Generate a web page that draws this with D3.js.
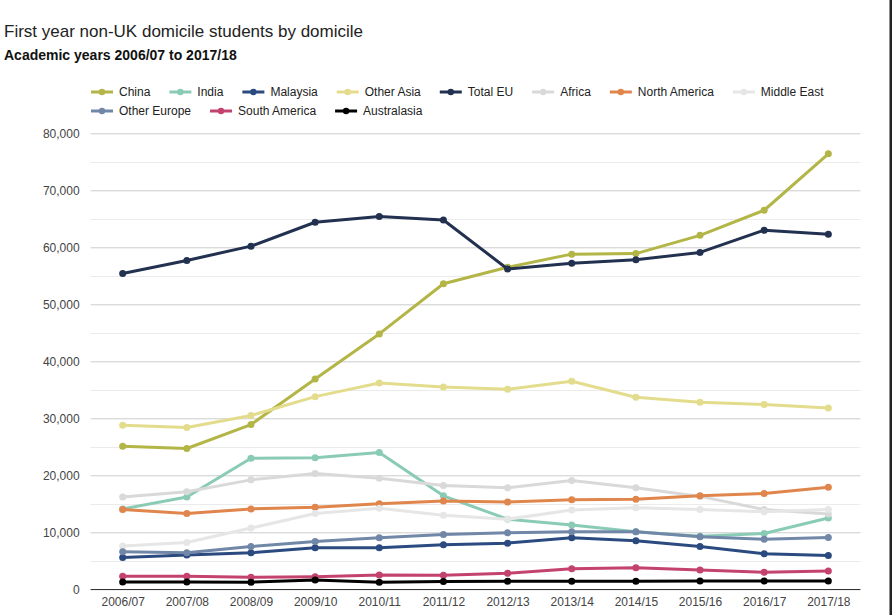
<!DOCTYPE html>
<meta charset="utf-8">
<style>
body{
  margin: 0;
  background: #fff;
  font-family: "Liberation Sans", Arial, sans-serif;
}
svg{ display: block; }
.tick text{ fill: #444; font-size: 12px; }
.legend text{ fill: #222; font-size: 12px; }
</style>
<body>
<div id="chart"></div>
<script src="https://cdn.jsdelivr.net/npm/d3@7"></script>
<script>

var years = ['2006/07','2007/08','2008/09','2009/10','2010/11','2011/12',
             '2012/13','2013/14','2014/15','2015/16','2016/17','2017/18']

var china        = [25100, 24700, 28900, 36900, 44800, 53600, 56500, 58800, 58900, 62100, 66500, 76400]
var india        = [14100, 16200, 23000, 23100, 24000, 16400, 12300, 11300, 10100,  9300,  9800, 12500]
var malaysia     = [ 5600,  6000,  6400,  7300,  7300,  7800,  8100,  9050,  8500,  7500,  6250,  5950]
var otherAsia    = [28800, 28400, 30500, 33800, 36200, 35500, 35100, 36500, 33700, 32800, 32400, 31800]
var totalEU      = [55400, 57700, 60200, 64400, 65400, 64800, 56200, 57200, 57800, 59100, 63000, 62300]
var africa       = [16200, 17100, 19200, 20300, 19500, 18200, 17800, 19100, 17800, 16300, 14000, 13200]
var northAmerica = [14000, 13300, 14100, 14400, 15000, 15500, 15300, 15700, 15800, 16400, 16800, 17900]
var middleEast   = [ 7600,  8200, 10750, 13300, 14200, 13000, 12300, 13900, 14300, 14000, 13600, 14000]
var otherEurope  = [ 6600,  6400,  7500,  8400,  9050,  9600,  9900, 10100, 10100,  9200,  8800,  9100]
var southAmerica = [ 2300,  2300,  2100,  2200,  2500,  2450,  2800,  3600,  3800,  3400,  3000,  3200]
var australasia  = [ 1300,  1300,  1250,  1650,  1250,  1350,  1400,  1400,  1400,  1450,  1450,  1450]

var names  = ['China','India','Malaysia','Other Asia','Total EU','Africa','North America',
              'Middle East','Other Europe','South America','Australasia']
var values = [china, india, malaysia, otherAsia, totalEU, africa, northAmerica,
              middleEast, otherEurope, southAmerica, australasia]
var colors = ['#b3b646','#8acbb6','#2b4a80','#e4dc8d','#22314f','#d9d9d9','#e0864c',
              '#e6e6e6','#7187a8','#c4426f','#000000']

var yTicks = d3.range(0, 80001, 10000)

var width = 892, height = 615
// plot box (window.top is read-only, so no bare "top")
var plot = {left: 90.6, right: 860.4, top: 133.3, bottom: 589.3}

var svg = d3.select('#chart').append('svg')
    .attr('width', width)
    .attr('height', height)

// titles
svg.append('text')
    .attr('x', 4).attr('y', 37)
    .style('font-size', '17px')
    .style('fill', '#222')
    .text('First year non-UK domicile students by domicile')

svg.append('text')
    .attr('x', 4).attr('y', 60)
    .style('font-size', '14px')
    .style('font-weight', 'bold')
    .style('fill', '#111')
    .text('Academic years 2006/07 to 2017/18')

var x = d3.scalePoint().domain(years).range([plot.left, plot.right]).padding(0.5)
var y = d3.scaleLinear().domain([0, 80000]).range([plot.bottom, plot.top])

// minor gridlines
svg.append('g')
  .selectAll('line')
  .data(d3.range(5000, 80000, 10000))
  .join('line')
    .attr('x1', plot.left).attr('x2', plot.right)
    .attr('y1', function(d){ return Math.round(y(d)) + .5 })
    .attr('y2', function(d){ return Math.round(y(d)) + .5 })
    .attr('stroke', '#ebebeb')

// major gridlines + labels
var yAxis = svg.append('g')
    .attr('transform', 'translate(' + plot.left + ',0)')
    .call(d3.axisLeft(y).tickValues(yTicks).tickSize(-(plot.right - plot.left)).tickPadding(11)
      .tickFormat(d3.format(',')))
yAxis.select('.domain').remove()
yAxis.selectAll('.tick line').attr('stroke', '#cccccc')

// baseline
svg.append('line')
    .attr('x1', plot.left).attr('x2', plot.right)
    .attr('y1', Math.round(y(0)) + .5).attr('y2', Math.round(y(0)) + .5)
    .attr('stroke', '#333').attr('stroke-width', 1.2)

var xAxis = svg.append('g')
    .attr('transform', 'translate(0,' + plot.bottom + ')')
    .call(d3.axisBottom(x).tickSize(0).tickPadding(8))
xAxis.select('.domain').remove()

// lines
var line = d3.line()
    .x(function(d, i){ return x(years[i]) })
    .y(function(d){ return y(d) })

var series = svg.append('g')
  .selectAll('g')
  .data(values)
  .join('g')

series.append('path')
    .attr('d', line)
    .attr('fill', 'none')
    .attr('stroke', function(d, i){ return colors[i] })
    .attr('stroke-width', 3)
    .attr('stroke-linejoin', 'round')

series.each(function(vals, i){
  d3.select(this).selectAll('circle')
    .data(vals)
    .join('circle')
      .attr('cx', function(d, j){ return x(years[j]) })
      .attr('cy', function(d){ return y(d) })
      .attr('r', 3.5)
      .attr('fill', colors[i])
})

// legend
var legend = svg.append('g').attr('class', 'legend')
var lx = 91, ly = 92
names.forEach(function(name, i){
  var item = legend.append('g')
  var t = item.append('text')
      .attr('x', 28).attr('y', 4)
      .text(name)
  var w = 28 + t.node().getComputedTextLength()
  if (lx + w > 850){ lx = 91; ly += 19 }
  item.attr('transform', 'translate(' + lx + ',' + ly + ')')
  item.append('line')
      .attr('x1', 0).attr('x2', 22)
      .attr('stroke', colors[i]).attr('stroke-width', 3)
  item.append('circle')
      .attr('cx', 11).attr('r', 3.2)
      .attr('fill', colors[i])
  lx += w + 19
})

// right edge frame
svg.append('rect')
    .attr('x', 889.5).attr('y', 0)
    .attr('width', 2.5).attr('height', height)
    .attr('fill', '#222')

</script>
